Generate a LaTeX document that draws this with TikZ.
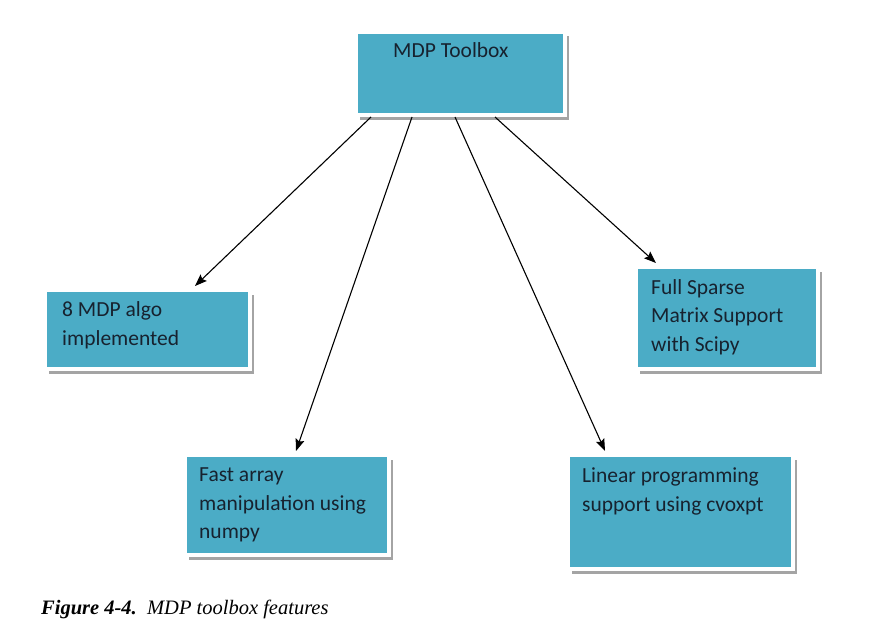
\documentclass[tikz,border=0pt]{standalone}
\usepackage{fontspec}
\setmainfont{Carlito}
\newfontfamily\capfont{Liberation Serif}
\usetikzlibrary{calc,arrows.meta,shadows}
\definecolor{boxblue}{HTML}{4BACC6}
\definecolor{boxtext}{HTML}{17222F}
\definecolor{shadowgray}{HTML}{A4A4A4}
\begin{document}
\begin{tikzpicture}[x=1pt,y=-1pt,
  box/.style={rectangle, fill=boxblue, draw=white, line width=4pt, inner sep=0pt,
    general shadow={fill=shadowgray, shadow xshift=4pt, shadow yshift=-4.5pt}},
  txt/.style={anchor=base west, align=left, inner sep=0pt, text=boxtext,
    font=\fontsize{21.5}{28.5}\selectfont},
  conn/.style={draw=black, line width=1.1pt, -{Stealth[length=12pt,width=9pt,inset=2pt]}}]
\useasboundingbox (0,0) rectangle (869,634);
\fill[white] (0,0) rectangle (869,634);
\node[box, minimum width=209pt, minimum height=83pt] (m) at (460.5,73.5) {};
\node[box, minimum width=205pt, minimum height=79pt] (b1) at (147.5,329.5) {};
\node[box, minimum width=182pt, minimum height=102pt] (b2) at (727,318) {};
\node[box, minimum width=204pt, minimum height=100pt] (b3) at (287,505) {};
\node[box, minimum width=225pt, minimum height=114pt] (b4) at (680.5,512) {};
\node[txt] (t0) at ($(m.north west)+(39,28)$) {MDP Toolbox};
\node[txt] (t1) at ($(b1.north west)+(19,57)$) {8 MDP algo\\implemented};
\node[txt] (t2) at ($(b2.north west)+(17,86)$) {Full Sparse\\Matrix Support\\with Scipy};
\node[txt] (t3) at ($(b3.north west)+(16,85.5)$) {Fast array\\manipulation using\\numpy};
\node[txt] (t4) at ($(b4.north west)+(16,58)$) {Linear programming\\support using cvoxpt};
\draw[conn] ($(m.south west)+(17,0)$) -- ($(b1.north west)+(152,-2)$);
\draw[conn] ($(m.south west)+(58,0)$) -- ($(b3.north west)+(113,-2)$);
\draw[conn] ($(m.south west)+(101,0)$) -- ($(b4.north west)+(39,-2)$);
\draw[conn] ($(m.south west)+(141,0)$) -- ($(b2.north west)+(22,-2)$);
\node[anchor=base west, inner sep=0pt, font=\capfont\fontsize{20.5}{24}\selectfont] (cap) at (41,614)
  {\textbf{\textit{Figure 4-4.}}\hspace{0.5em}\textit{MDP toolbox features}};
\end{tikzpicture}
\end{document}
